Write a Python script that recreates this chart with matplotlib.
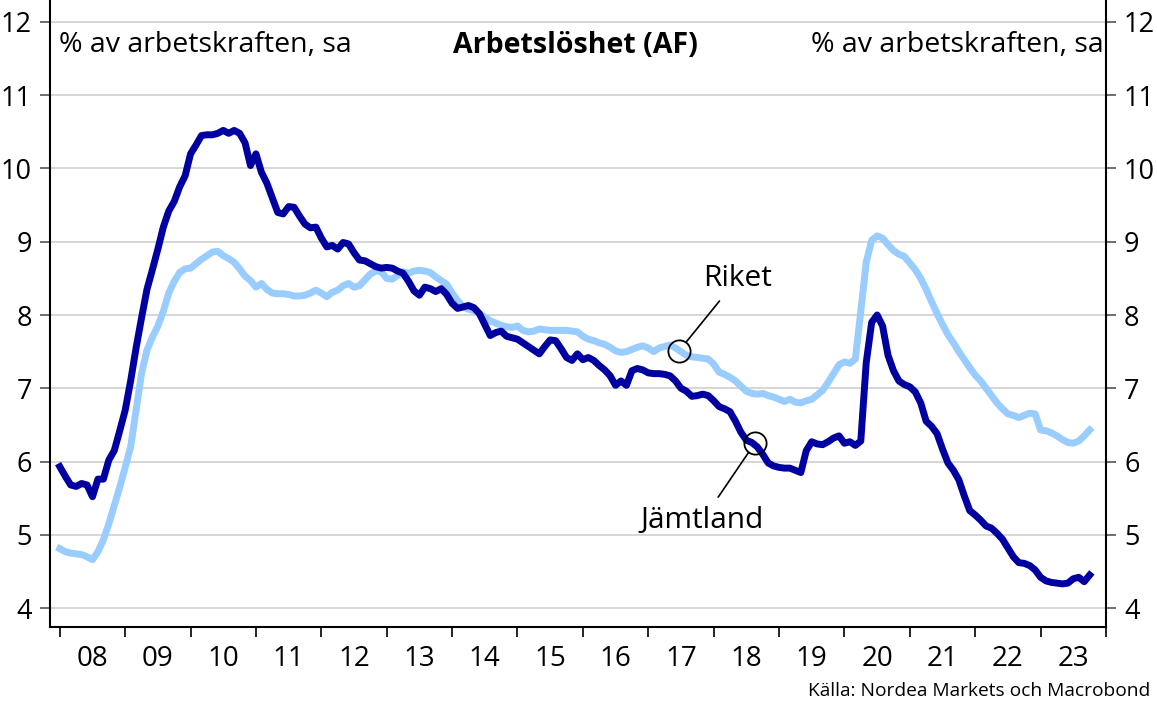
import numpy as np
import matplotlib
matplotlib.use('Agg')
from matplotlib import pyplot as plt

# monthly, Jan 2008 - Oct 2023, % of labour force (sa)
jamtland = [
    5.93, 5.80, 5.68, 5.66, 5.70, 5.68, 5.52, 5.76, 5.76, 6.02, 6.15, 6.42,
    6.70, 7.10, 7.55, 7.96, 8.35, 8.62, 8.90, 9.20, 9.42, 9.55, 9.75, 9.90,
    10.20, 10.32, 10.45, 10.46, 10.46, 10.48, 10.52, 10.48, 10.52, 10.48, 10.35, 10.04,
    10.20, 9.95, 9.80, 9.60, 9.40, 9.38, 9.48, 9.47, 9.35, 9.24, 9.19, 9.20,
    9.05, 8.93, 8.95, 8.90, 8.99, 8.97, 8.85, 8.75, 8.74, 8.70, 8.66, 8.64,
    8.65, 8.64, 8.60, 8.57, 8.46, 8.33, 8.27, 8.38, 8.36, 8.32, 8.36, 8.28,
    8.16, 8.09, 8.11, 8.13, 8.10, 8.02, 7.87, 7.72, 7.76, 7.78, 7.71, 7.69,
    7.67, 7.62, 7.57, 7.52, 7.47, 7.57, 7.66, 7.65, 7.54, 7.42, 7.38, 7.47,
    7.39, 7.42, 7.38, 7.31, 7.25, 7.17, 7.04, 7.10, 7.04, 7.24, 7.27, 7.25,
    7.21, 7.20, 7.20, 7.19, 7.17, 7.10, 7.00, 6.96, 6.89, 6.90, 6.92, 6.90,
    6.83, 6.75, 6.72, 6.68, 6.55, 6.40, 6.29, 6.26, 6.20, 6.10, 5.98, 5.94,
    5.92, 5.91, 5.91, 5.88, 5.85, 6.15, 6.27, 6.24, 6.23, 6.27, 6.32, 6.35,
    6.25, 6.27, 6.22, 6.28, 7.35, 7.90, 8.00, 7.85, 7.45, 7.24, 7.10, 7.05,
    7.02, 6.95, 6.80, 6.55, 6.48, 6.38, 6.17, 5.98, 5.88, 5.75, 5.53, 5.33,
    5.27, 5.20, 5.12, 5.09, 5.02, 4.94, 4.82, 4.70, 4.62, 4.61, 4.58, 4.52,
    4.42, 4.37, 4.35, 4.34, 4.33, 4.34, 4.40, 4.42, 4.36, 4.45,
]
riket = [
    4.81, 4.77, 4.75, 4.74, 4.73, 4.70, 4.66, 4.77, 4.93, 5.15, 5.40, 5.65,
    5.92, 6.20, 6.70, 7.20, 7.52, 7.70, 7.85, 8.05, 8.30, 8.46, 8.58, 8.63,
    8.64, 8.70, 8.76, 8.81, 8.86, 8.87, 8.81, 8.77, 8.72, 8.63, 8.53, 8.47,
    8.38, 8.43, 8.35, 8.30, 8.29, 8.29, 8.28, 8.26, 8.26, 8.27, 8.30, 8.34,
    8.30, 8.25, 8.31, 8.34, 8.40, 8.43, 8.38, 8.40, 8.48, 8.56, 8.60, 8.59,
    8.50, 8.49, 8.54, 8.59, 8.57, 8.60, 8.61, 8.60, 8.58, 8.52, 8.47, 8.42,
    8.30, 8.20, 8.11, 8.08, 8.06, 8.02, 7.97, 7.92, 7.89, 7.86, 7.84, 7.83,
    7.85, 7.79, 7.77, 7.78, 7.81, 7.80, 7.79, 7.79, 7.79, 7.79, 7.78, 7.77,
    7.71, 7.67, 7.65, 7.62, 7.60, 7.56, 7.51, 7.49, 7.50, 7.53, 7.56, 7.58,
    7.55, 7.50, 7.55, 7.57, 7.59, 7.55, 7.50, 7.45, 7.43, 7.42, 7.41, 7.40,
    7.33, 7.22, 7.19, 7.15, 7.10, 7.03, 6.96, 6.93, 6.92, 6.93, 6.90, 6.88,
    6.85, 6.82, 6.85, 6.81, 6.80, 6.83, 6.85, 6.91, 6.97, 7.08, 7.20, 7.32,
    7.36, 7.34, 7.40, 8.05, 8.72, 9.02, 9.08, 9.05, 8.96, 8.88, 8.83, 8.80,
    8.71, 8.62, 8.50, 8.35, 8.18, 8.02, 7.87, 7.73, 7.62, 7.50, 7.39, 7.28,
    7.18, 7.10, 7.00, 6.90, 6.80, 6.72, 6.65, 6.63, 6.60, 6.63, 6.66, 6.65,
    6.43, 6.42, 6.39, 6.35, 6.30, 6.26, 6.25, 6.28, 6.35, 6.43,
]
years = list(range(2008, 2025))
year_labels = ['08', '09', '10', '11', '12', '13', '14', '15', '16', '17',
               '18', '19', '20', '21', '22', '23']

plt.rcParams['font.family'] = ['Open Sans', 'DejaVu Sans']

dates = 2008 + np.arange(len(jamtland)) / 12

fig = plt.figure(figsize=(11.57, 7.11), dpi=100)
ax = fig.add_axes([0.0432, 0.118, 0.9127, 0.882])

dark = '#0000a0'
light = '#99ccff'
ax.plot(dates, riket, color=light, lw=5, solid_joinstyle='round', zorder=3)
ax.plot(dates, jamtland, color=dark, lw=5, solid_joinstyle='round', zorder=4)

ax.set_xlim(2007.85, 2024.0)
ax.set_ylim(3.74, 12.3)

ax.set_yticks(range(4, 13))
ax.yaxis.grid(True, color='#cccccc', lw=1.1)
ax.set_axisbelow(True)
ax.tick_params(axis='y', which='both', direction='out', length=7, width=1.2,
               labelsize=19.5, left=True, right=True, labelleft=True, labelright=True,
               pad=6, color='#555555')

ax.set_xticks(years)
ax.set_xticklabels([])
ax.set_xticks([y + 0.5 for y in years[:-1]], minor=True)
ax.set_xticklabels(year_labels, minor=True)
ax.tick_params(axis='x', which='major', direction='out', length=7, width=1.2)
ax.tick_params(axis='x', which='minor', length=0, labelsize=20, pad=13)

for s in ['left', 'right', 'bottom']:
    ax.spines[s].set_linewidth(1.5)
ax.spines['top'].set_visible(False)

# headers
ax.text(0.009, 0.928, '% av arbetskraften, sa', transform=ax.transAxes,
        fontsize=20.5, ha='left', va='center')
ax.text(0.998, 0.928, '% av arbetskraften, sa', transform=ax.transAxes,
        fontsize=20.5, ha='right', va='center')
ax.text(0.498, 0.928, 'Arbetslöshet (AF)', transform=ax.transAxes,
        fontsize=20.5, ha='center', va='center', fontweight='bold')

# labels with circles
ax.plot([2017.47], [7.51], marker='o', ms=16, mfc='none', mec='black', mew=1.3, zorder=5)
ax.plot([2018.63], [6.25], marker='o', ms=16, mfc='none', mec='black', mew=1.3, zorder=5)
ax.annotate('Riket', xy=(2017.47, 7.51), xytext=(2018.37, 8.5), fontsize=21.5,
            ha='center', va='center',
            arrowprops=dict(arrowstyle='-', lw=1.2, color='black', shrinkA=5, shrinkB=8))
ax.annotate('Jämtland', xy=(2018.63, 6.25), xytext=(2017.83, 5.2), fontsize=21.5,
            ha='center', va='center',
            arrowprops=dict(arrowstyle='-', lw=1.2, color='black', shrinkA=5, shrinkB=8))

fig.text(0.994, 0.015, 'Källa: Nordea Markets och Macrobond', fontsize=13.8,
         ha='right', va='bottom')

plt.savefig('out.png', dpi=100)
